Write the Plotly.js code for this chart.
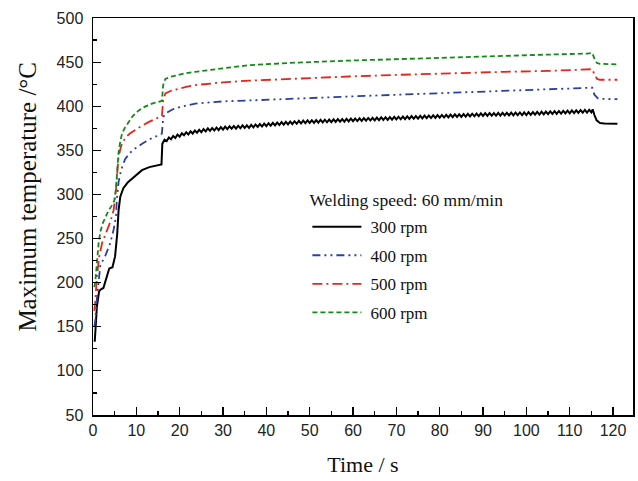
<!DOCTYPE html>
<html><head><meta charset="utf-8">
<script src="https://cdn.plot.ly/plotly-3.0.1.min.js"></script>
<style>html,body{margin:0;padding:0;background:#fff}</style>
</head><body><div id="chart" style="width:638px;height:481px"></div>
<script>
// ---------- data ----------
const seriesNames = ['300 rpm', '400 rpm', '500 rpm', '600 rpm'];
const legendTitle = 'Welding speed: 60 mm/min';
const xTitle = 'Time / s';
const yTitle = 'Maximum temperature /°C';
const xTicks = [0,10,20,30,40,50,60,70,80,90,100,110,120];
const yTicks = [50,100,150,200,250,300,350,400,450,500];

const blackTime = [0.4,0.9,1.4,1.7,2.4,3,3.75,4.5,5.1,5.6,5.9,6.3,7,8,9,10,11.3,13,15.3,15.8,
 16,16.5,17,17.5,18,18.5,19,19.5,20,20.5,
 21,21.5,22,22.5,23,23.5,24,24.5,25,25.5,
 26,26.5,27,27.5,28,28.5,29,29.5,30,30.5,
 31,31.5,32,32.5,33,33.5,34,34.5,35,35.5,
 36,36.5,37,37.5,38,38.5,39,39.5,40,40.5,
 41,41.5,42,42.5,43,43.5,44,44.5,45,45.5,
 46,46.5,47,47.5,48,48.5,49,49.5,50,50.5,
 51,51.5,52,52.5,53,53.5,54,54.5,55,55.5,
 56,56.5,57,57.5,58,58.5,59,59.5,60,60.5,
 61,61.5,62,62.5,63,63.5,64,64.5,65,65.5,
 66,66.5,67,67.5,68,68.5,69,69.5,70,70.5,
 71,71.5,72,72.5,73,73.5,74,74.5,75,75.5,
 76,76.5,77,77.5,78,78.5,79,79.5,80,80.5,
 81,81.5,82,82.5,83,83.5,84,84.5,85,85.5,
 86,86.5,87,87.5,88,88.5,89,89.5,90,90.5,
 91,91.5,92,92.5,93,93.5,94,94.5,95,95.5,
 96,96.5,97,97.5,98,98.5,99,99.5,100,100.5,
 101,101.5,102,102.5,103,103.5,104,104.5,105,105.5,
 106,106.5,107,107.5,108,108.5,109,109.5,110,110.5,
 111,111.5,112,112.5,113,113.5,114,114.5,115,
 115.3,115.7,116.2,117,118,121];
const blackTemp = [133,173,190,192,194,205,216,217.5,230,256,282,297.5,307,313.5,318,322.5,327.5,331,333.5,334,
 357.5,362,360.5,364.5,362.5,366.3,364,367.8,365.5,369.3,
 367,370.5,368,371.5,369,372.5,370,373.3,370.5,374,
 371.5,374.8,372,375.3,372.5,375.8,373,376.3,373.5,376.8,
 374,377.3,374.5,377.6,374.7,377.9,375,378.2,375.3,378.4,
 375.5,378.8,376,379.3,376.5,379.8,377,380.3,377.5,380.7,
 377.9,381.1,378.3,381.5,378.7,381.9,379.1,382.3,379.5,382.7,
 379.8,383,380.1,383.3,380.4,383.6,380.7,383.9,381,384.1,
 381.2,384.3,381.4,384.5,381.6,384.7,381.8,384.9,382,385.1,
 382.2,385.3,382.4,385.5,382.6,385.7,382.8,385.9,383,386.1,
 383.2,386.3,383.4,386.5,383.6,386.7,383.8,386.9,384,387.1,
 384.2,387.3,384.4,387.5,384.6,387.7,384.8,387.9,385,388.1,
 385.2,388.3,385.4,388.5,385.6,388.7,385.8,388.9,386,389.1,
 386.2,389.3,386.4,389.5,386.6,389.7,386.8,389.9,387,390.1,
 387.2,390.3,387.4,390.5,387.6,390.7,387.8,390.9,388,391.1,
 388.2,391.3,388.4,391.5,388.6,391.7,388.8,391.9,389,392.1,
 389.1,392.2,389.2,392.3,389.3,392.4,389.4,392.5,389.5,392.6,
 389.6,392.7,389.7,392.8,389.8,392.9,389.9,393,390,393.2,
 390.2,393.4,390.4,393.6,390.6,393.8,390.8,394,391,394.2,
 391.2,394.4,391.4,394.6,391.6,394.8,391.8,395,392,395.2,
 392.2,395.4,392.4,395.6,392.6,395.8,392.8,396,393,
 396.5,390,384,381,380.3,380];

const blueTime = [0.3,0.5,0.9,1.3,1.7,2.8,4,4.75,5.3,5.5,5.9,6.5,7.4,8.5,9.7,11.5,13.6,15.5,15.9,16.2,17,18.2,20,23.6,27,30,36,45,59,70,82,95,105,114,115.2,115.7,116.5,117.5,121];
const blueTemp = [150,156,182,205,220,230,245,260,275,294,314,328,340,347,352,358,364,367.5,369,388,392.5,396,399,403,404.5,405.5,406.5,408.5,411,413,415,417,418.5,420.5,421,413,409,408.3,408];

const redTime = [0.3,0.5,0.9,1.45,2.1,3.2,4,4.75,5.3,5.6,5.9,6.5,7.4,8.5,9.7,11,12.8,14,15.5,15.9,16.2,16.7,18,19.7,21.5,23.6,27,30,36,45,59,70,82,95,105,114,115.2,115.7,116.3,117,121];
const redTemp = [168,177,207,230,245,258,269,282,305,325,343,355,364,369,373,377,382,385,388,389,407,414.5,417.5,420,422,424,426,427,429,431,433.7,435.5,437.4,439,440,441.5,442,436,431,430,430];

const greenTime = [0.3,0.5,0.9,1.3,1.7,2.3,2.8,3.6,4.3,4.9,5.3,5.6,5.9,6.3,6.7,7.4,8.2,9.2,10.5,12,13.6,15.5,15.9,16.2,16.7,18,19.7,21.5,23.6,27,30,36,45,59,70,82,95,105,114,115.2,115.7,116.3,117,121];
const greenTemp = [195,200,222,245,258,268,273,282,287,293,306,325,348,360,369,376,382,389,395,399.5,403,405,406,424,431,433.5,435.5,437.5,439,441.5,443,446.5,449,451.7,453.5,455.5,457.5,458.5,459.7,460.3,454,449,448,447.5];

// ---------- styles ----------
const styles = [
  {color:'#000000', width:2.0, dash:'solid'},
  {color:'#2b3fa6', width:1.8, dash:'8px,4px,2px,4px,2px,4px'},
  {color:'#e5261c', width:1.8, dash:'10px,4px,2px,4px'},
  {color:'#14891a', width:1.8, dash:'5px,3px'}
];
const xs = [blackTime, blueTime, redTime, greenTime];
const ys = [blackTemp, blueTemp, redTemp, greenTemp];

const traces = seriesNames.map((n,i)=>({
  type:'scatter', mode:'lines', name:n, x:xs[i], y:ys[i],
  line:{color:styles[i].color, width:styles[i].width, dash:styles[i].dash},
  legendgroup:'g'+i, hoverinfo:'skip'
}));

const tickFont = {family:'"Liberation Sans", Arial, sans-serif', size:16, color:'#222'};
const serif = '"Liberation Serif", "Times New Roman", serif';

const layout = {
  width:638, height:481,
  margin:{l:93, r:5, t:18, b:66},
  paper_bgcolor:'#ffffff', plot_bgcolor:'#ffffff',
  showlegend:true,
  xaxis:{
    range:[0,124.6], tickmode:'array', tickvals:xTicks, ticktext:xTicks.map(String),
    ticks:'inside', ticklen:8, tickwidth:1.2, tickcolor:'#000',
    minor:{dtick:5, tick0:0, ticks:'inside', ticklen:4, tickwidth:1.2, tickcolor:'#000', showgrid:false},
    showline:true, linecolor:'#000', linewidth:1.5, mirror:true,
    showgrid:false, zeroline:false, tickfont:tickFont,
    title:{text:xTitle, font:{family:serif, size:22, color:'#111'}, standoff:19}
  },
  yaxis:{
    range:[50,500], tickmode:'array', tickvals:yTicks, ticktext:yTicks.map(String),
    ticks:'inside', ticklen:8, tickwidth:1.2, tickcolor:'#000',
    minor:{dtick:25, tick0:0, ticks:'inside', ticklen:4, tickwidth:1.2, tickcolor:'#000', showgrid:false},
    showline:true, linecolor:'#000', linewidth:1.5, mirror:true,
    showgrid:false, zeroline:false, tickfont:tickFont, ticklabelstandoff:5
  },
  annotations:[{
    text:yTitle, textangle:-90, showarrow:false,
    xref:'paper', yref:'paper', x:-0.122, y:0.5504, xanchor:'center', yanchor:'middle',
    font:{family:serif, size:25, color:'#111'}
  }],
  legend:{
    x:0.397, y:0.576, xanchor:'left', yanchor:'top',
    bgcolor:'rgba(0,0,0,0)', borderwidth:0,
    font:{family:serif, size:17, color:'#111'},
    title:{text:legendTitle, font:{family:serif, size:17.5, color:'#111'}},
    tracegroupgap:3.5, itemwidth:53
  }
};

Plotly.newPlot('chart', traces, layout, {displayModeBar:false, staticPlot:true}).then(()=>{
  // lengthen legend line samples to match the reference
  document.querySelectorAll('#chart .legend .legendlines path').forEach(p=>{
    p.setAttribute('d','M5,0h49');
  });
  const t = document.querySelector('#chart .legend .legendtitletext');
  if (t) { const y = parseFloat(t.getAttribute('y')||'0'); t.setAttribute('y', y-3.5); }
});
</script></body></html>
